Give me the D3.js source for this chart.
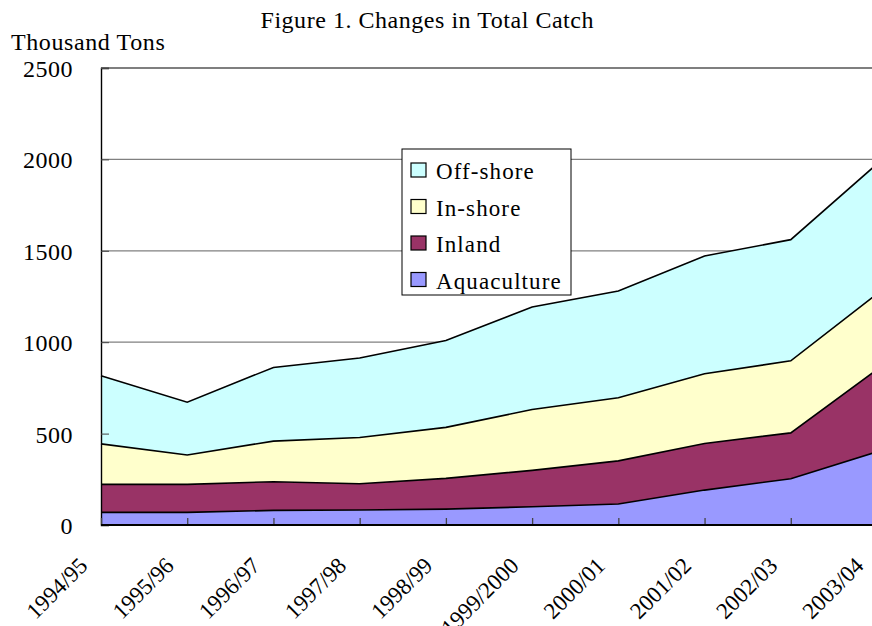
<!DOCTYPE html>
<html>
<head>
<meta charset="utf-8">
<script src="https://cdn.jsdelivr.net/npm/d3@7"></script>
<style>
  body { margin: 0; background: #fff; }
  svg { display: block; font-family: "Liberation Serif", "Times New Roman", serif; }
</style>
</head>
<body>
<svg id="chart"></svg>
<script>
// data (thousand tons)
const years = ['1994/95', '1995/96', '1996/97', '1997/98', '1998/99',
  '1999/2000', '2000/01', '2001/02', '2002/03', '2003/04'];
const aquaculture = [69, 69, 80, 82, 87, 100, 115, 191, 253, 400];
const inland = [153, 153, 157, 144, 168, 199, 236, 255, 251, 450];
const inshore = [222, 161, 222, 253, 279, 333, 345, 381, 394, 415];
const offshore = [372, 289, 403, 435, 475, 561, 584, 645, 663, 710];
const seriesNames = ['Aquaculture', 'Inland', 'In-shore', 'Off-shore'];
const yTicks = [0, 500, 1000, 1500, 2000, 2500];

// drawing constants
const W = 872, H = 626;
const LEFT = 101, RIGHT = 877, TOP = 68, BOTTOM = 525;
const colors = {
  'Aquaculture': '#9999ff',
  'Inland': '#993366',
  'In-shore': '#ffffcc',
  'Off-shore': '#ccffff'
};

const rows = years.map((y, i) => ({
  year: y,
  'Aquaculture': aquaculture[i],
  'Inland': inland[i],
  'In-shore': inshore[i],
  'Off-shore': offshore[i]
}));

const svg = d3.select('#chart')
  .attr('width', W)
  .attr('height', H);

const x = d3.scalePoint().domain(years).range([LEFT, RIGHT]);
const y = d3.scaleLinear().domain([0, 2500]).range([BOTTOM, TOP]);

const stacked = d3.stack().keys(seriesNames)(rows);

// gridlines
svg.append('g')
  .selectAll('line')
  .data(yTicks.filter(t => t > 0 && t < 2500))
  .join('line')
  .attr('x1', LEFT).attr('x2', W)
  .attr('y1', d => y(d)).attr('y2', d => y(d))
  .attr('stroke', '#808080')
  .attr('stroke-width', 1.2);

// stacked areas
const area = d3.area()
  .x((d, i) => x(years[i]))
  .y0(d => y(d[0]))
  .y1(d => y(d[1]));

svg.append('g')
  .selectAll('path')
  .data(stacked)
  .join('path')
  .attr('fill', d => colors[d.key])
  .attr('d', area);

// boundary lines
const line = d3.line()
  .x((d, i) => x(years[i]))
  .y(d => y(d[1]));

svg.append('g')
  .selectAll('path')
  .data(stacked)
  .join('path')
  .attr('fill', 'none')
  .attr('stroke', '#000')
  .attr('stroke-width', 1.6)
  .attr('d', line);

// frame: top border and left axis
svg.append('line')
  .attr('x1', LEFT).attr('x2', W)
  .attr('y1', TOP).attr('y2', TOP)
  .attr('stroke', '#000').attr('stroke-width', 1.2);

const yAxis = svg.append('g')
  .attr('transform', `translate(${LEFT},0)`)
  .call(d3.axisRight(y).tickValues(yTicks).tickSize(8).tickFormat(''));
yAxis.select('.domain').attr('stroke', '#000').attr('stroke-width', 1.4);
yAxis.selectAll('.tick line').attr('stroke', '#444');

svg.append('g')
  .selectAll('text')
  .data(yTicks)
  .join('text')
  .attr('x', 73)
  .attr('y', d => y(d) + 9)
  .attr('text-anchor', 'end')
  .attr('font-size', 24)
  .attr('letter-spacing', 0.5)
  .text(d => d);

// x axis
const xAxis = svg.append('g')
  .attr('transform', `translate(0,${BOTTOM})`)
  .call(d3.axisTop(x).tickSize(7).tickFormat(''));
xAxis.select('.domain').remove();
xAxis.selectAll('.tick line').attr('stroke', '#444').attr('stroke-width', 1.3);
svg.append('line')
  .attr('x1', LEFT).attr('x2', W)
  .attr('y1', BOTTOM).attr('y2', BOTTOM)
  .attr('stroke', '#000').attr('stroke-width', 2.2);

svg.append('g')
  .selectAll('text')
  .data(years)
  .join('text')
  .attr('text-anchor', 'end')
  .attr('font-size', 23)
  .attr('transform', d => `translate(${x(d) - 12},567) rotate(-45)`)
  .text(d => d);

// titles
svg.append('text')
  .attr('x', 427).attr('y', 28)
  .attr('text-anchor', 'middle')
  .attr('font-size', 24)
  .attr('textLength', 333)
  .attr('lengthAdjust', 'spacing')
  .text('Figure 1. Changes in Total Catch');

svg.append('text')
  .attr('x', 11).attr('y', 50)
  .attr('font-size', 24)
  .attr('letter-spacing', 0.6)
  .text('Thousand Tons');

// legend
const legend = svg.append('g');
legend.append('rect')
  .attr('x', 402).attr('y', 149)
  .attr('width', 169).attr('height', 146)
  .attr('fill', '#fff')
  .attr('stroke', '#000')
  .attr('stroke-width', 1);

const legendOrder = seriesNames.slice().reverse();
const legendItem = legend.selectAll('g.item')
  .data(legendOrder)
  .join('g')
  .attr('class', 'item')
  .attr('transform', (d, i) => `translate(0,${i * 36.5})`);

legendItem.append('rect')
  .attr('x', 411).attr('y', 163)
  .attr('width', 15).attr('height', 14)
  .attr('fill', d => colors[d])
  .attr('stroke', '#000')
  .attr('stroke-width', 1.2);

legendItem.append('text')
  .attr('x', 436).attr('y', 179)
  .attr('font-size', 23)
  .attr('letter-spacing', 1.1)
  .text(d => d);
</script>
</body>
</html>
